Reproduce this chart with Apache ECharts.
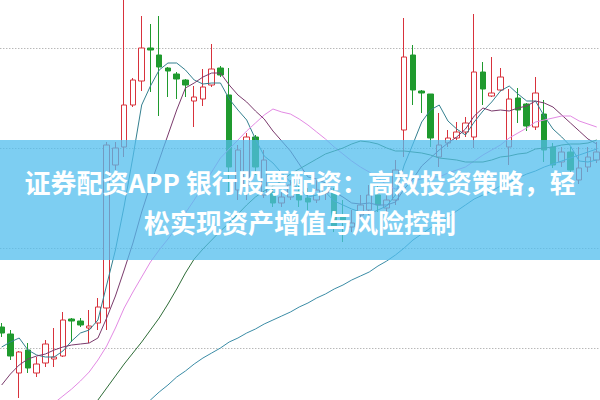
<!DOCTYPE html>
<html><head><meta charset="utf-8">
<script src="https://cdn.jsdelivr.net/npm/echarts@6/dist/echarts.min.js"></script>
<style>html,body{margin:0;padding:0;background:#fff}#c{width:600px;height:400px}</style>
</head><body><div id="c"></div>
<script>
const days = ['1','2','3','4','5','6','7','8','9','10','11','12','13','14','15','16','17','18','19','20',
'21','22','23','24','25','26','27','28','29','30','31','32','33','34','35','36','37','38','39','40',
'41','42','43','44','45','46','47','48','49','50','51','52','53','54','55','56','57','58','59','60',
'61','62','63','64','65','66','67','68','69'];

const opens = [11.21,11.14,10.75,10.98,10.75,10.85,10.89,10.92,11.29,11.27,
11.20,11.25,11.40,12.83,13.01,13.43,13.67,14.00,13.93,13.80,
13.74,13.68,13.47,13.49,13.63,13.80,13.53,12.58,12.63,13.11,
12.53,12.55,12.45,12.51,12.56,12.50,12.48,12.55,12.56,12.33,
12.21,12.33,12.38,12.53,12.40,12.48,13.18,13.93,13.57,13.54,
12.91,13.05,13.10,13.16,13.11,13.76,13.52,13.58,13.01,13.50,
13.44,13.21,13.34,13.01,12.86,12.96,12.68,12.81,12.88];
const closes = [11.15,10.92,10.96,10.80,10.84,11.04,10.91,11.28,11.27,11.23,
11.22,11.41,13.03,13.00,13.43,13.68,14.00,13.98,13.81,13.77,
13.69,13.63,13.51,13.61,13.79,13.73,12.81,12.98,13.11,12.81,
12.88,12.45,12.51,12.63,12.48,12.46,12.58,12.63,12.20,12.28,
12.25,12.43,12.53,12.43,12.48,12.78,13.91,13.58,13.55,13.10,
13.03,13.10,13.16,13.25,13.76,13.59,13.55,13.71,13.49,13.38,
13.22,13.55,12.98,12.83,12.96,12.78,12.80,12.91,12.96];
const lows = [11.11,10.88,10.50,10.75,10.71,10.81,10.81,10.91,11.06,11.21,
11.05,11.18,11.18,12.78,12.91,13.41,13.57,13.56,13.32,13.51,
13.49,13.51,13.21,13.42,13.61,13.71,12.53,12.48,12.48,12.73,
12.50,12.41,12.41,12.48,12.41,12.38,12.45,12.48,12.16,12.06,
12.16,12.28,12.33,12.36,12.36,12.43,12.91,13.43,13.35,13.01,
12.81,13.01,13.08,13.11,13.00,13.43,13.51,13.57,12.83,13.25,
13.17,13.18,12.86,12.80,12.81,12.68,12.64,12.76,12.85];
const highs = [11.25,11.18,10.97,11.05,10.91,11.08,11.20,11.36,11.30,11.30,
11.38,11.50,13.06,13.06,14.53,13.70,14.32,14.24,14.32,13.81,
13.76,13.69,13.62,13.79,14.04,13.82,13.80,13.03,13.15,13.13,
12.98,12.65,12.58,12.68,12.65,12.60,12.68,12.65,12.60,12.48,
12.38,12.53,12.63,12.63,12.53,12.88,14.30,14.03,13.58,13.54,
13.35,13.18,13.26,13.31,14.34,13.86,13.91,13.80,13.59,13.60,
13.45,13.71,13.48,13.05,13.01,13.01,13.01,13.01,13.06];

const ma5 = [11.01,11.06,11.10,10.98,10.93,10.91,10.91,10.97,11.07,11.15,
11.18,11.28,11.63,11.98,12.42,12.91,13.43,13.62,13.78,13.85,
13.85,13.78,13.68,13.64,13.65,13.65,13.49,13.38,13.28,13.09,
12.92,12.85,12.75,12.66,12.59,12.51,12.53,12.56,12.47,12.43,
12.39,12.36,12.34,12.38,12.42,12.53,12.83,13.04,13.26,13.38,
13.43,13.27,13.19,13.13,13.26,13.37,13.46,13.57,13.62,13.54,
13.47,13.47,13.32,13.19,13.11,13.02,12.87,12.86,12.88];
const ma10 = [10.63,10.74,10.83,10.89,10.92,10.94,10.98,11.01,11.03,11.04,
11.05,11.10,11.30,11.52,11.78,12.05,12.36,12.63,12.88,13.13,
13.38,13.60,13.65,13.71,13.75,13.75,13.63,13.53,13.46,13.37,
13.29,13.17,13.07,12.97,12.84,12.71,12.69,12.65,12.56,12.51,
12.45,12.44,12.45,12.43,12.43,12.46,12.59,12.69,12.82,12.90,
12.98,13.05,13.11,13.19,13.32,13.40,13.37,13.38,13.37,13.40,
13.42,13.47,13.45,13.41,13.33,13.25,13.17,13.09,13.04];
const ma20 = [null,null,null,null,10.32,10.38,10.45,10.52,10.59,10.67,
10.76,10.88,11.02,11.20,11.40,11.56,11.71,11.86,11.98,12.09,
12.21,12.35,12.48,12.62,12.76,12.90,12.99,13.08,13.17,13.25,
13.33,13.39,13.36,13.34,13.29,13.23,13.16,13.09,13.01,12.94,
12.87,12.81,12.76,12.70,12.63,12.59,12.64,12.67,12.69,12.71,
12.71,12.75,12.78,12.81,12.87,12.93,12.98,13.03,13.10,13.15,
13.20,13.26,13.28,13.30,13.32,13.32,13.27,13.24,13.21];
const ma30 = [null,null,null,null,null,null,null,null,null,null,
10.36,10.48,10.60,10.72,10.84,10.95,11.06,11.18,11.30,11.44,
11.59,11.75,11.89,11.99,12.08,12.17,12.25,12.34,12.43,12.51,
12.57,12.62,12.67,12.74,12.79,12.84,12.89,12.94,12.97,13.00,
13.04,13.07,13.06,13.04,13.00,12.97,12.97,12.96,12.95,12.93,
12.90,12.89,12.88,12.86,12.86,12.86,12.88,12.91,12.92,12.94,
12.95,12.99,13.00,13.01,13.03,13.04,13.04,13.05,13.08];
const ma60 = [null,null,null,null,null,null,null,null,null,null,
null,null,10.08,10.16,10.24,10.32,10.40,10.48,10.56,10.63,
10.71,10.77,10.84,10.90,10.95,11.00,11.06,11.10,11.15,11.19,
11.24,11.28,11.32,11.36,11.41,11.45,11.50,11.54,11.59,11.63,
11.68,11.72,11.76,11.82,11.87,11.93,12.00,12.08,12.14,12.20,
12.26,12.31,12.37,12.43,12.49,12.53,12.57,12.62,12.66,12.70,
12.74,12.77,12.81,12.84,12.87,12.90,12.93,12.96,12.99];

const yTicks = [10, 11, 12, 13, 14, 15];
const bannerText = '证券配资APP 银行股票配资：高效投资策略，轻\n松实现资产增值与风险控制';

const candleData = opens.map((o, i) => [o, closes[i], lows[i], highs[i]]);

const chart = echarts.init(document.getElementById('c'), null, {renderer: 'svg'});
function ma(name, data, color) {
  return {name, type: 'line', data, symbol: 'none', smooth: false, connectNulls: false,
    lineStyle: {width: 1, color}, itemStyle: {color}, z: 3, silent: true, animation: false};
}
chart.setOption({
  animation: false,
  backgroundColor: '#fff',
  grid: {left: -2.7, right: -1.1, top: -52, bottom: -48, containLabel: false, outerBoundsMode: 'none'},
  xAxis: {type: 'category', data: days, boundaryGap: true,
    axisLine: {show: false}, axisTick: {show: false}, axisLabel: {show: false}, splitLine: {show: false}},
  yAxis: {type: 'value', min: yTicks[0], max: yTicks[yTicks.length - 1], interval: 1, scale: false,
    axisLine: {show: false}, axisTick: {show: false}, axisLabel: {show: false},
    splitLine: {show: true, lineStyle: {color: '#9a9a9a', width: 1, type: [1, 2]}}},
  series: [
    {type: 'candlestick', data: candleData, barWidth: 6, z: 2,
      itemStyle: {color: '#ffffff', color0: '#1f9a2e', borderColor: '#d8323c', borderColor0: '#1f9a2e', borderWidth: 1}},
    ma('MA5', ma5, '#34808f'),
    ma('MA10', ma10, '#7a3a6c'),
    ma('MA20', ma20, '#e38ae4'),
    ma('MA30', ma30, '#2f6d38'),
    ma('MA60', ma60, '#3b8ca6')
  ],
  graphic: [
    {type: 'rect', z: 100, silent: true, shape: {x: 0, y: 140, width: 600, height: 120},
      style: {fill: 'rgba(82,190,238,0.75)'}},
    {type: 'text', z: 101, silent: true, x: 300, y: 201,
      style: {text: bannerText, fill: '#ffffff', fontSize: 26, fontWeight: 'bold',
        fontFamily: '"Noto Sans CJK SC", "Noto Sans", sans-serif', lineHeight: 40,
        align: 'center', verticalAlign: 'middle'}}
  ]
});
</script></body></html>
